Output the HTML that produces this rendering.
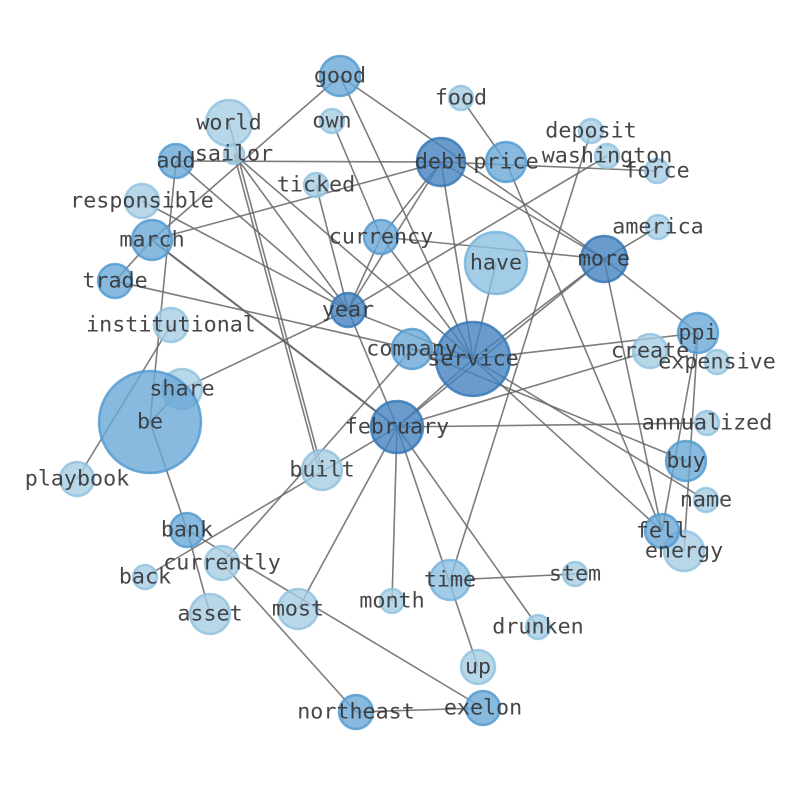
<!DOCTYPE html>
<html><head><meta charset="utf-8"><style>html,body{margin:0;padding:0;background:#fff}svg{display:block}</style></head><body>
<svg width="794" height="790" viewBox="0 0 794 790" xmlns="http://www.w3.org/2000/svg">
<g stroke="#666" stroke-width="1.6" stroke-opacity="0.85">
<line x1="340" y1="76" x2="152" y2="240"/>
<line x1="340" y1="76" x2="604" y2="259"/>
<line x1="340" y1="76" x2="473" y2="359"/>
<line x1="332" y1="121" x2="381" y2="237"/>
<line x1="176" y1="161" x2="441" y2="162"/>
<line x1="176" y1="161" x2="348" y2="310"/>
<line x1="176" y1="161" x2="150" y2="422"/>
<line x1="229" y1="123" x2="322" y2="470"/>
<line x1="234" y1="154" x2="319" y2="470"/>
<line x1="234" y1="154" x2="348" y2="310"/>
<line x1="234" y1="154" x2="473" y2="359"/>
<line x1="316" y1="185" x2="348" y2="310"/>
<line x1="142" y1="201" x2="348" y2="310"/>
<line x1="152" y1="240" x2="441" y2="162"/>
<line x1="152" y1="240" x2="115" y2="281"/>
<line x1="152" y1="240" x2="397" y2="427"/>
<line x1="155" y1="243" x2="400" y2="430"/>
<line x1="115" y1="281" x2="412" y2="349"/>
<line x1="381" y1="237" x2="348" y2="310"/>
<line x1="381" y1="237" x2="441" y2="162"/>
<line x1="381" y1="237" x2="604" y2="259"/>
<line x1="381" y1="237" x2="473" y2="359"/>
<line x1="441" y1="162" x2="348" y2="310"/>
<line x1="441" y1="162" x2="473" y2="359"/>
<line x1="441" y1="162" x2="604" y2="259"/>
<line x1="441" y1="162" x2="657" y2="171"/>
<line x1="461" y1="98" x2="506" y2="162"/>
<line x1="506" y1="162" x2="662" y2="531"/>
<line x1="591" y1="131" x2="450" y2="580"/>
<line x1="607" y1="156" x2="348" y2="310"/>
<line x1="348" y1="310" x2="182" y2="389"/>
<line x1="658" y1="227" x2="604" y2="259"/>
<line x1="496" y1="263" x2="473" y2="359"/>
<line x1="604" y1="259" x2="473" y2="359"/>
<line x1="604" y1="259" x2="698" y2="333"/>
<line x1="604" y1="259" x2="662" y2="531"/>
<line x1="604" y1="259" x2="397" y2="427"/>
<line x1="698" y1="333" x2="473" y2="359"/>
<line x1="698" y1="333" x2="662" y2="531"/>
<line x1="698" y1="333" x2="684" y2="551"/>
<line x1="650" y1="351" x2="397" y2="427"/>
<line x1="473" y1="359" x2="412" y2="349"/>
<line x1="473" y1="359" x2="348" y2="310"/>
<line x1="473" y1="359" x2="662" y2="531"/>
<line x1="473" y1="359" x2="706" y2="500"/>
<line x1="412" y1="349" x2="686" y2="461"/>
<line x1="412" y1="349" x2="222" y2="563"/>
<line x1="473" y1="359" x2="397" y2="427"/>
<line x1="348" y1="310" x2="397" y2="427"/>
<line x1="397" y1="427" x2="707" y2="423"/>
<line x1="397" y1="427" x2="392" y2="601"/>
<line x1="397" y1="427" x2="478" y2="667"/>
<line x1="397" y1="427" x2="538" y2="627"/>
<line x1="397" y1="427" x2="298" y2="609"/>
<line x1="397" y1="427" x2="145" y2="577"/>
<line x1="450" y1="580" x2="575" y2="574"/>
<line x1="150" y1="422" x2="182" y2="389"/>
<line x1="77" y1="479" x2="171" y2="325"/>
<line x1="150" y1="422" x2="187" y2="530"/>
<line x1="187" y1="530" x2="483" y2="708"/>
<line x1="187" y1="530" x2="210" y2="614"/>
<line x1="222" y1="563" x2="356" y2="712"/>
<line x1="356" y1="712" x2="483" y2="708"/>
</g>
<g stroke-width="2.5" fill-opacity="0.8" stroke-opacity="0.8">
<g fill="#a6cde4" stroke="#8fc0df">
<circle cx="461" cy="98" r="12"/><circle cx="229" cy="123" r="23"/><circle cx="332" cy="121" r="12"/>
<circle cx="234" cy="154" r="10"/><circle cx="591" cy="131" r="12"/><circle cx="607" cy="156" r="12"/>
<circle cx="657" cy="171" r="12"/><circle cx="316" cy="185" r="12"/><circle cx="142" cy="201" r="17"/>
<circle cx="658" cy="227" r="12"/><circle cx="171" cy="325" r="17"/><circle cx="650" cy="351" r="17"/>
<circle cx="717" cy="362" r="12"/><circle cx="182" cy="389" r="20"/><circle cx="707" cy="423" r="12"/>
<circle cx="322" cy="470" r="20"/><circle cx="77" cy="479" r="17"/><circle cx="706" cy="500" r="12"/>
<circle cx="684" cy="551" r="20"/><circle cx="222" cy="563" r="17"/><circle cx="145" cy="577" r="12"/>
<circle cx="575" cy="574" r="12"/><circle cx="392" cy="601" r="12"/><circle cx="298" cy="609" r="20"/>
<circle cx="210" cy="614" r="20"/><circle cx="538" cy="627" r="12"/><circle cx="478" cy="667" r="17"/>
</g>
<g fill="#8cbfe0" stroke="#74b0da">
<circle cx="496" cy="263" r="31"/><circle cx="450" cy="580" r="20"/>
</g>
<g fill="#6aa8d6" stroke="#4f98cf">
<circle cx="340" cy="76" r="20"/><circle cx="176" cy="161" r="17"/><circle cx="506" cy="162" r="20"/>
<circle cx="152" cy="240" r="20"/><circle cx="381" cy="237" r="17"/><circle cx="115" cy="281" r="17"/>
<circle cx="698" cy="333" r="20"/><circle cx="412" cy="349" r="20"/><circle cx="150" cy="422" r="51"/>
<circle cx="686" cy="461" r="20"/><circle cx="187" cy="530" r="17"/><circle cx="662" cy="531" r="17"/>
<circle cx="356" cy="712" r="17"/><circle cx="483" cy="708" r="17"/>
</g>
<g fill="#4483bf" stroke="#3274b4">
<circle cx="441" cy="162" r="24"/><circle cx="604" cy="259" r="23"/><circle cx="348" cy="310" r="17"/>
<circle cx="473" cy="359" r="37"/><circle cx="397" cy="427" r="26"/>
</g>
</g>
<g font-family="'DejaVu Sans Mono','Liberation Mono',monospace" font-size="21.7" fill="#333" fill-opacity="0.9" text-anchor="middle" dominant-baseline="central">
<text x="340" y="76">good</text><text x="461" y="98">food</text><text x="229" y="123">world</text>
<text x="332" y="121">own</text><text x="176" y="161">add</text><text x="234" y="154">sailor</text>
<text x="591" y="131">deposit</text><text x="607" y="156">washington</text><text x="441" y="162">debt</text>
<text x="506" y="162">price</text><text x="657" y="171">force</text><text x="316" y="185">ticked</text>
<text x="142" y="201">responsible</text><text x="152" y="240">march</text><text x="381" y="237">currency</text>
<text x="658" y="227">america</text><text x="496" y="263">have</text><text x="604" y="259">more</text>
<text x="115" y="281">trade</text><text x="348" y="310">year</text><text x="171" y="325">institutional</text>
<text x="698" y="333">ppi</text><text x="412" y="349">company</text><text x="473" y="359">service</text>
<text x="650" y="351">create</text><text x="717" y="362">expensive</text><text x="182" y="389">share</text>
<text x="150" y="422">be</text><text x="397" y="427">february</text><text x="707" y="423">annualized</text>
<text x="686" y="461">buy</text><text x="322" y="470">built</text><text x="77" y="479">playbook</text>
<text x="706" y="500">name</text><text x="187" y="530">bank</text><text x="662" y="531">fell</text>
<text x="684" y="551">energy</text><text x="222" y="563">currently</text><text x="145" y="577">back</text>
<text x="575" y="574">stem</text><text x="450" y="580">time</text><text x="392" y="601">month</text>
<text x="298" y="609">most</text><text x="210" y="614">asset</text><text x="538" y="627">drunken</text>
<text x="478" y="667">up</text><text x="356" y="712">northeast</text><text x="483" y="708">exelon</text>
</g>
</svg>
</body></html>
